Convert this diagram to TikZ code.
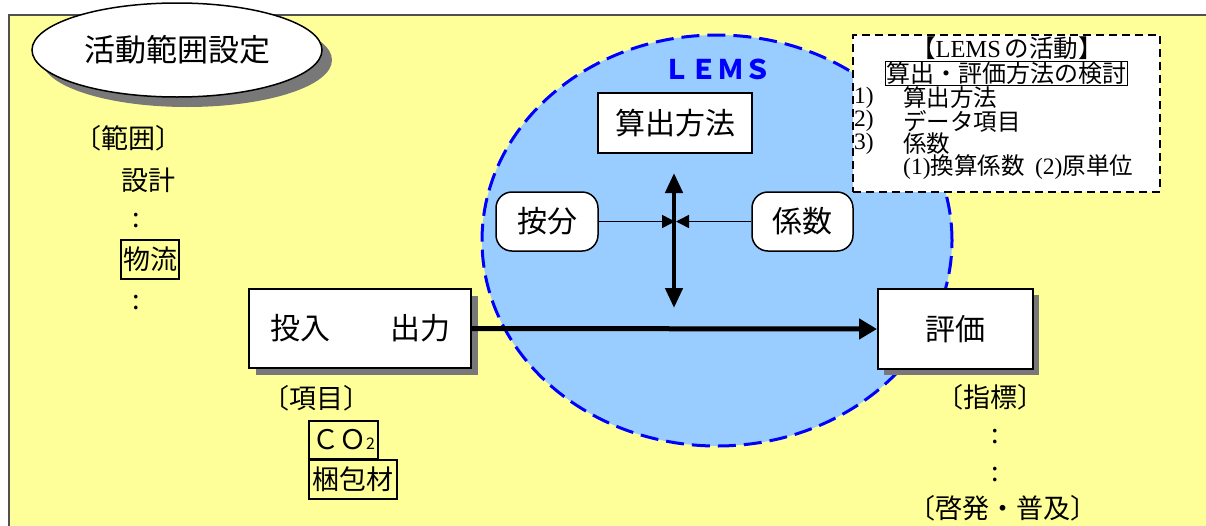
\documentclass[tikz,border=0pt]{standalone}
\usepackage{fontspec}
\setmainfont{Noto Sans CJK JP}
\newfontfamily\serif{Liberation Serif}
\usetikzlibrary{arrows.meta,shapes.geometric}
\definecolor{bgyellow}{HTML}{FFFF99}
\definecolor{lemsfill}{HTML}{99CCFF}
\definecolor{lemsline}{HTML}{0000FF}
\definecolor{edgegray}{HTML}{505050}
\definecolor{shadowgray}{RGB}{120,120,120}
\tikzset{
  fs/.style={font=\fontsize{#1}{#1}\selectfont},
  mainbox/.style={draw=black, line width=2pt, fill=white, inner sep=0pt, fs=30},
  plainbox/.style={draw=black, line width=2pt, fill=white, inner sep=0pt, fs=30},
  roundbox/.style={draw=black, line width=1.5pt, fill=white, rounded corners=16pt, inner sep=0pt, fs=30},
  tagbox/.style={draw=black, line width=2pt, inner sep=0pt, fs=27},
  lbl/.style={inner sep=0pt, fs=27},
  boxtext/.style={inner sep=0pt, fs=23.5, anchor=west},
  thickarrow/.style={line width=5pt, -{Triangle[length=18pt,width=20pt]}},
  dblarrow/.style={line width=4.5pt, {Triangle[length=20pt,width=17pt]}-{Triangle[length=20pt,width=17pt]}},
  thinarrow/.style={line width=1.5pt, -{Triangle[length=13pt,width=13pt]}},
}
\begin{document}
\begin{tikzpicture}[x=1pt,y=-1pt]
\useasboundingbox (0,0) rectangle (1206,525);
\fill[white] (0,0) rectangle (1206,525);
% yellow panel
\draw[fill=bgyellow, draw=edgegray, line width=2.5pt] (9,15) rectangle (1220,540);
% title ellipse with shadow
\fill[shadowgray] (187,60) ellipse [x radius=145, y radius=47];
\node[ellipse, draw=black, line width=1.5pt, fill=white, minimum width=290pt, minimum height=94pt, inner sep=0pt, fs=31] (act) at (177,50) {活動範囲設定};
% LEMS region
\node[ellipse, draw=lemsline, fill=lemsfill, line width=3pt, dash pattern=on 18pt off 8pt, minimum width=470pt, minimum height=411pt] (lems) at (717,240.5) {};
\node[inner sep=0pt, text=lemsline, font=\fontsize{27}{27}\selectfont\bfseries] (lemslabel) at (717,69) {ＬＥＭＳ};
% activity note
\node[draw=black, fill=white, line width=2pt, dash pattern=on 8pt off 5pt, minimum width=307pt, minimum height=157pt, inner sep=0pt] (note) at (1006.5,113.5) {};
\node[inner sep=0pt, fs=24.5] (notetitle) at (1007,48) {【{\serif LEMS}\,の活動】};
\node[draw=black, line width=1.5pt, inner sep=1pt, fs=24] (notesub) at (1006.5,73.5) {算出・評価方法の検討};
\node[boxtext] (n1) at (854,98) {\serif 1)};
\node[boxtext] (t1) at (903,98) {算出方法};
\node[boxtext] (n2) at (854,121) {\serif 2)};
\node[boxtext] (t2) at (903,121) {データ項目};
\node[boxtext] (n3) at (854,144) {\serif 3)};
\node[boxtext] (t3) at (903,144) {係数};
\node[boxtext] (t4) at (903,167) {{\serif (1)}換算係数\ \ {\serif (2)}原単位};
% inner boxes
\node[plainbox, minimum width=154pt, minimum height=60pt] (calc) at (675,123) {算出方法};
\node[roundbox, minimum width=102pt, minimum height=59pt] (anbun) at (547,221.5) {按分};
\node[roundbox, minimum width=101pt, minimum height=59pt] (keisu) at (802.5,221.5) {係数};
\coordinate (crossL) at (675,221.5);
\coordinate (crossR) at (676,221.5);
\coordinate (vtop) at (674,173);
\coordinate (vbot) at (674,308);
\draw[thinarrow] (anbun.east) -- (crossL);
\draw[thinarrow] (keisu.west) -- (crossR);
\draw[dblarrow] (vtop) -- (vbot);
% main flow with shadows
\fill[shadowgray] (256,296) rectangle (478,375);
\node[mainbox, minimum width=222pt, minimum height=79pt] (io) at (360,328.5) {投入　　出力};
\fill[shadowgray] (884,295) rectangle (1039,375);
\node[mainbox, minimum width=155pt, minimum height=80pt] (ev) at (955.5,329) {評価};
\draw[thickarrow] (io.east) -- (ev.west);
% left column
\node[lbl] (hani) at (128,138) {〔範囲〕};
\node[lbl] (sekkei) at (148.5,180) {設計};
\node[lbl] (dots1) at (136,221) {:};
\node[tagbox, minimum width=58pt, minimum height=39pt] (butsuryu) at (150,259.5) {物流};
\node[lbl] (dots2) at (136,303) {:};
% items
\node[lbl] (koumoku) at (316.5,398) {〔項目〕};
\node[tagbox, minimum width=69pt, minimum height=38pt] (co2) at (343.5,440) {ＣＯ{\fontsize{16}{16}\selectfont 2}};
\node[tagbox, minimum width=88pt, minimum height=39pt] (konpou) at (353,479.5) {梱包材};
% indicators
\node[lbl] (shihyou) at (990,397) {〔指標〕};
\node[lbl] (dots3) at (995,437) {:};
\node[lbl] (dots4) at (995,475) {:};
\node[lbl] (keihatsu) at (1003,508) {〔啓発・普及〕};
\end{tikzpicture}
\end{document}
